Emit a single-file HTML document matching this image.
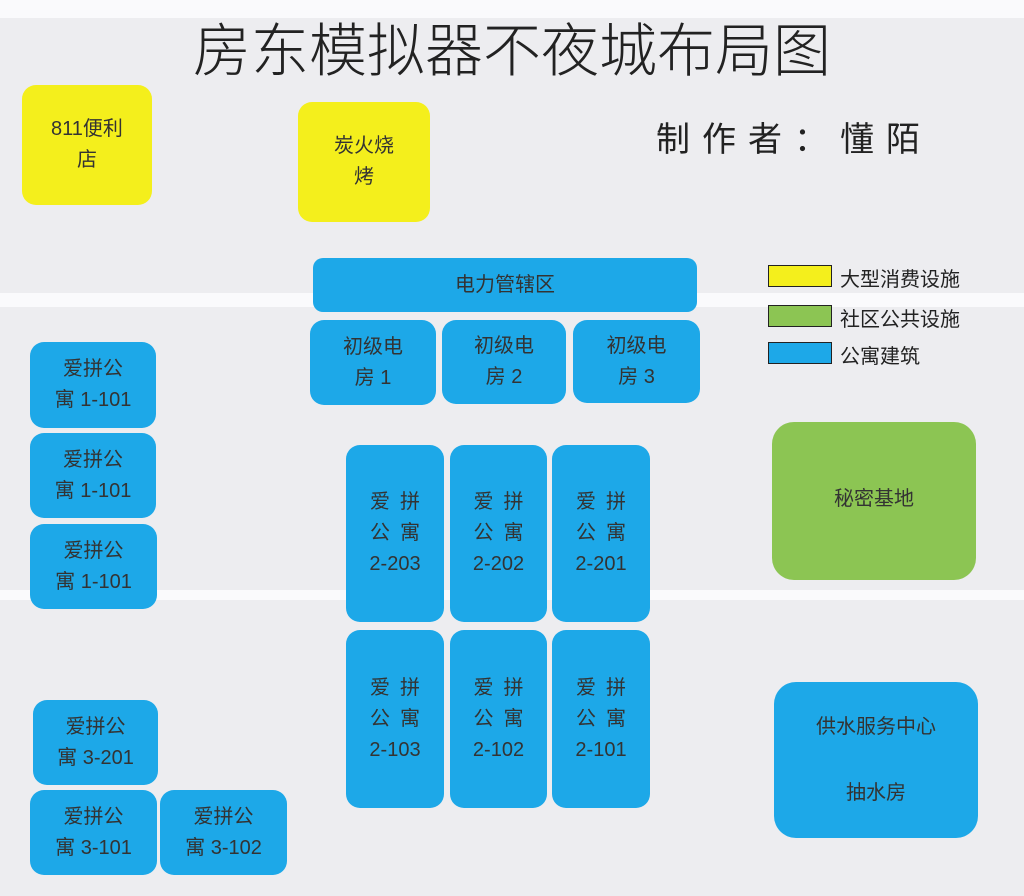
<!DOCTYPE html>
<html><head><meta charset="utf-8"><style>
body{margin:0;width:1024px;height:896px;position:relative;overflow:hidden;background:#ededf0;font-family:"Liberation Sans","Noto Sans CJK SC",sans-serif;color:#333}
.band{position:absolute;left:0;width:1024px;background:#fafafc}
.b{position:absolute;border-radius:14px;display:flex;align-items:center;justify-content:center;text-align:center;font-size:20px;line-height:31px;box-sizing:border-box}
.bl{background:#1da8e8}
.y{background:#f4ef1c}
.g{background:#8cc553}
.v{letter-spacing:10px;padding-left:10px}
.lg{position:absolute;left:768px;width:64px;height:22px;border:1.5px solid #222;box-sizing:border-box}
.lt{position:absolute;left:840px;font-size:20px;color:#222}
</style></head><body>
<div class="band" style="top:0;height:18px"></div>
<div class="band" style="top:293px;height:14px"></div>
<div class="band" style="top:590px;height:10px"></div>
<div style="position:absolute;left:0;width:1024px;top:16px;text-align:center;font-size:58px;line-height:72px;color:#222;font-weight:300">房东模拟器不夜城布局图</div>
<div style="position:absolute;left:656px;top:112px;font-size:34px;letter-spacing:12px;color:#222">制作者：懂陌</div>

<div class="b y" style="left:22px;top:85px;width:130px;height:120px">811便利<br>店</div>
<div class="b y" style="left:298px;top:102px;width:132px;height:120px">炭火烧<br>烤</div>

<div class="b bl" style="left:313px;top:258px;width:384px;height:54px;border-radius:10px">电力管辖区</div>
<div class="b bl" style="left:310px;top:320px;width:126px;height:85px">初级电<br>房 1</div>
<div class="b bl" style="left:442px;top:320px;width:124px;height:84px">初级电<br>房 2</div>
<div class="b bl" style="left:573px;top:320px;width:127px;height:83px">初级电<br>房 3</div>

<div class="b bl" style="left:30px;top:342px;width:126px;height:86px">爱拼公<br>寓 1-101</div>
<div class="b bl" style="left:30px;top:433px;width:126px;height:85px">爱拼公<br>寓 1-101</div>
<div class="b bl" style="left:30px;top:524px;width:127px;height:85px">爱拼公<br>寓 1-101</div>

<div class="b bl" style="left:346px;top:445px;width:98px;height:177px"><span><span class="v">爱拼</span><br><span class="v">公寓</span><br>2-203</span></div>
<div class="b bl" style="left:450px;top:445px;width:97px;height:177px"><span><span class="v">爱拼</span><br><span class="v">公寓</span><br>2-202</span></div>
<div class="b bl" style="left:552px;top:445px;width:98px;height:177px"><span><span class="v">爱拼</span><br><span class="v">公寓</span><br>2-201</span></div>
<div class="b bl" style="left:346px;top:630px;width:98px;height:178px"><span><span class="v">爱拼</span><br><span class="v">公寓</span><br>2-103</span></div>
<div class="b bl" style="left:450px;top:630px;width:97px;height:178px"><span><span class="v">爱拼</span><br><span class="v">公寓</span><br>2-102</span></div>
<div class="b bl" style="left:552px;top:630px;width:98px;height:178px"><span><span class="v">爱拼</span><br><span class="v">公寓</span><br>2-101</span></div>

<div class="b g" style="left:772px;top:422px;width:204px;height:158px;border-radius:22px;align-items:flex-start;padding-top:62px">秘密基地</div>
<div class="b bl" style="left:774px;top:682px;width:204px;height:156px;border-radius:22px;line-height:66px">供水服务中心<br>抽水房</div>

<div class="b bl" style="left:33px;top:700px;width:125px;height:85px">爱拼公<br>寓 3-201</div>
<div class="b bl" style="left:30px;top:790px;width:127px;height:85px">爱拼公<br>寓 3-101</div>
<div class="b bl" style="left:160px;top:790px;width:127px;height:85px">爱拼公<br>寓 3-102</div>

<div class="lg" style="top:265px;background:#f4ef1c"></div><div class="lt" style="top:263px">大型消费设施</div>
<div class="lg" style="top:305px;background:#8cc553"></div><div class="lt" style="top:303px">社区公共设施</div>
<div class="lg" style="top:342px;background:#1da8e8"></div><div class="lt" style="top:340px">公寓建筑</div>
</body></html>
